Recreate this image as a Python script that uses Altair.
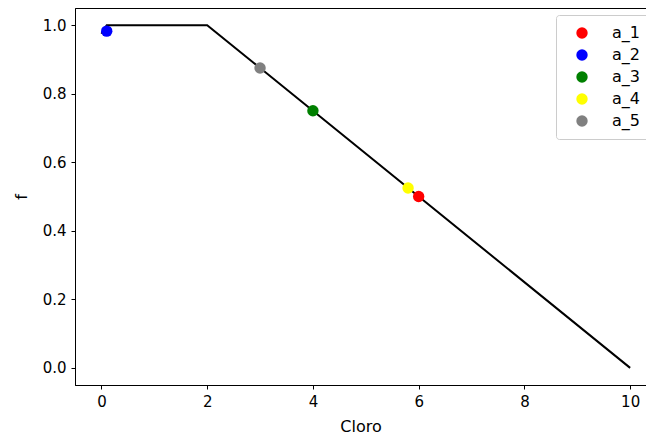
import altair as alt
import pandas as pd

line_x = [0.0, 0.1, 2.0, 10.0]
line_y = [0.975, 1.0, 1.0, 0.0]

names = ["a_1", "a_2", "a_3", "a_4", "a_5"]
px = [6.0, 0.1, 4.0, 5.8, 3.0]
py = [0.5, 0.9825, 0.75, 0.525, 0.875]
colors = ["#ff0000", "#0000ff", "#008000", "#ffff00", "#808080"]

line_df = pd.DataFrame({"x": line_x, "y": line_y})
pts_df = pd.DataFrame({"x": px, "y": py, "name": names})

FONT = "DejaVu Sans"
xscale = alt.Scale(domain=[-0.5, 10.3], nice=False, zero=False)
yscale = alt.Scale(domain=[-0.05, 1.05], nice=False, zero=False)

xaxis = alt.Axis(title="Cloro", values=[0, 2, 4, 6, 8, 10], format="d", grid=False,
                 tickColor="black", domainColor="black", labelColor="black", titleColor="black",
                 tickSize=4, labelFontSize=15, titleFontSize=16, labelFont=FONT, titleFont=FONT,
                 titleFontWeight="normal", labelPadding=5, titlePadding=9)
yaxis = alt.Axis(title="f", values=[0, 0.2, 0.4, 0.6, 0.8, 1.0], format=".1f", grid=False,
                 tickColor="black", domainColor="black", labelColor="black", titleColor="black",
                 tickSize=4, labelFontSize=15, titleFontSize=16, labelFont=FONT, titleFont=FONT,
                 titleFontWeight="normal", labelPadding=5, titlePadding=13)

line = alt.Chart(line_df).mark_line(color="black", strokeWidth=2, clip=True).encode(
    x=alt.X("x:Q", scale=xscale, axis=xaxis),
    y=alt.Y("y:Q", scale=yscale, axis=yaxis),
)

pts = alt.Chart(pts_df).mark_circle(size=130, opacity=1).encode(
    x=alt.X("x:Q", scale=xscale),
    y=alt.Y("y:Q", scale=yscale),
    color=alt.Color("name:N", scale=alt.Scale(domain=names, range=colors),
                    legend=alt.Legend(title=None, orient="none", legendX=481, legendY=7,
                                      strokeColor="#cccccc", fillColor="white", cornerRadius=3,
                                      padding=10, symbolType="circle", symbolSize=130,
                                      symbolOffset=8, labelOffset=22, labelFontSize=16,
                                      labelFont=FONT, labelColor="black", rowPadding=6,
                                      symbolStrokeWidth=0)),
)

chart = alt.layer(line, pts).properties(
    width=571, height=377,
    autosize=alt.AutoSizeParams(type="none"),
    padding={"left": 75, "top": 8, "right": 0, "bottom": 55},
).configure_view(stroke="black", strokeWidth=1)

chart.save("out.html", embed_options={"renderer": "svg", "actions": False})
